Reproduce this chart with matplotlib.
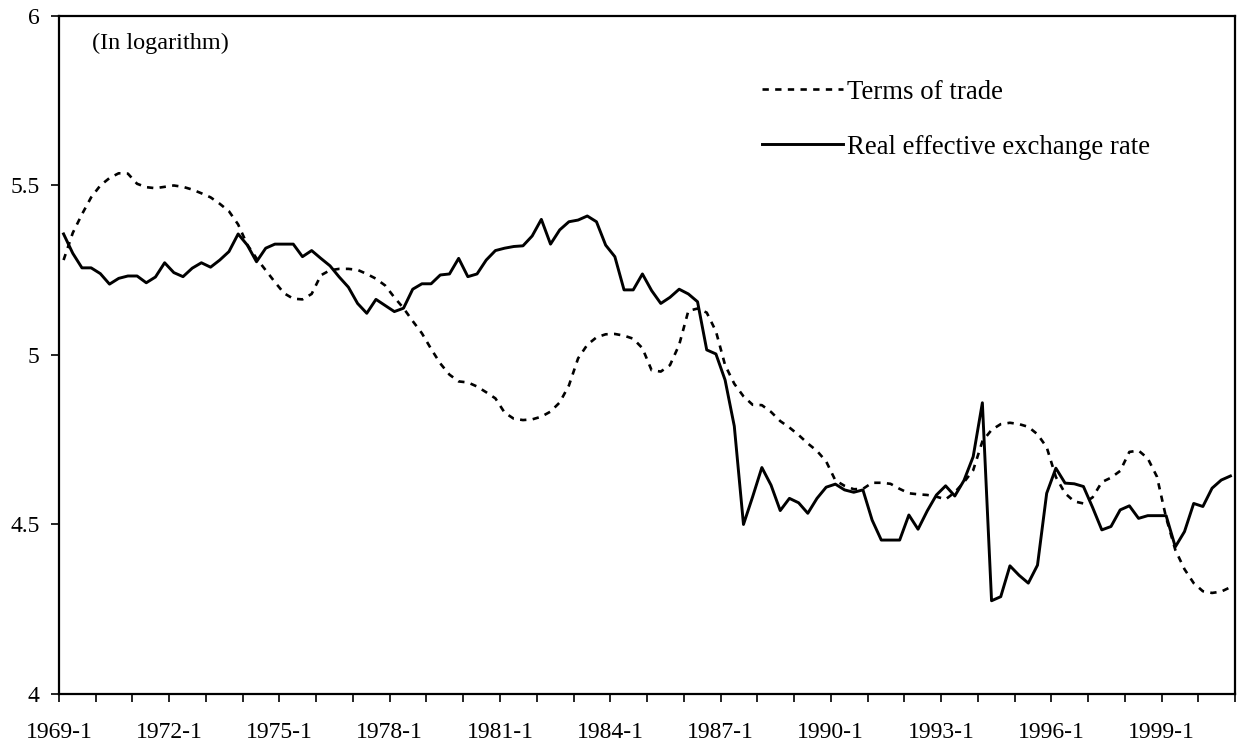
import matplotlib.pyplot as plt
from matplotlib.ticker import FuncFormatter
import numpy as np

# Quarterly data, 1969-1 to 2000-4 (in logarithm)
terms_of_trade = [
    5.28, 5.36, 5.415, 5.465, 5.50, 5.522, 5.536, 5.535,      # 1969-1970
    5.505, 5.495, 5.492, 5.496, 5.50, 5.496, 5.488, 5.477,    # 1971-1972
    5.465, 5.446, 5.424, 5.385, 5.325, 5.285, 5.25, 5.215,    # 1973-1974
    5.182, 5.166, 5.164, 5.18, 5.235, 5.25, 5.254, 5.254,     # 1975-1976
    5.251, 5.239, 5.225, 5.205, 5.17, 5.138, 5.10, 5.064,     # 1977-1978
    5.018, 4.975, 4.942, 4.922, 4.919, 4.907, 4.89, 4.872,    # 1979-1980
    4.83, 4.812, 4.808, 4.81, 4.818, 4.833, 4.86, 4.91,       # 1981-1982
    4.99, 5.03, 5.052, 5.061, 5.062, 5.057, 5.048, 5.02,      # 1983-1984
    4.955, 4.951, 4.97, 5.03, 5.13, 5.137, 5.125, 5.07,       # 1985-1986
    4.97, 4.915, 4.878, 4.853, 4.852, 4.832, 4.805, 4.786,    # 1987-1988
    4.764, 4.739, 4.717, 4.686, 4.63, 4.614, 4.604, 4.605,    # 1989-1990
    4.623, 4.623, 4.62, 4.605, 4.592, 4.589, 4.587, 4.582,    # 1991-1992
    4.574, 4.595, 4.625, 4.66, 4.745, 4.779, 4.796, 4.80,     # 1993-1994
    4.796, 4.788, 4.766, 4.728, 4.64, 4.592, 4.568, 4.562,    # 1995-1996
    4.58, 4.625, 4.638, 4.658, 4.714, 4.718, 4.695, 4.641,    # 1997-1998
    4.52, 4.425, 4.368, 4.327, 4.303, 4.298, 4.302, 4.315,    # 1999-2000
]

real_effective_exchange_rate = [
    5.357, 5.30, 5.257, 5.257, 5.24, 5.209, 5.226, 5.233,
    5.233, 5.213, 5.23, 5.272, 5.243, 5.231, 5.256, 5.272,
    5.259, 5.28, 5.305, 5.357, 5.324, 5.275, 5.315, 5.327,
    5.327, 5.327, 5.29, 5.308, 5.285, 5.263, 5.23, 5.20,
    5.152, 5.123, 5.164, 5.146, 5.128, 5.138, 5.194, 5.21,
    5.21, 5.236, 5.239, 5.285, 5.231, 5.239, 5.28, 5.308,
    5.315, 5.32, 5.322, 5.351, 5.40, 5.327, 5.369, 5.393,
    5.398, 5.41, 5.393, 5.324, 5.29, 5.192, 5.192, 5.239,
    5.19, 5.152, 5.17, 5.194, 5.18, 5.157, 5.015, 5.003,
    4.926, 4.79, 4.50, 4.582, 4.668, 4.616, 4.541, 4.577,
    4.564, 4.533, 4.577, 4.61, 4.619, 4.602, 4.595, 4.602,
    4.513, 4.454, 4.454, 4.454, 4.528, 4.486, 4.54, 4.587,
    4.614, 4.584, 4.63, 4.70, 4.859, 4.275, 4.287, 4.378,
    4.35, 4.327, 4.38, 4.592, 4.666, 4.622, 4.62, 4.612,
    4.55, 4.484, 4.494, 4.543, 4.555, 4.518, 4.526, 4.526,
    4.526, 4.434, 4.479, 4.562, 4.553, 4.607, 4.631, 4.643,
]

years = list(range(1969, 2002))
y_ticks = [4, 4.5, 5, 5.5, 6]

plt.rcParams['font.family'] = ['Liberation Serif', 'DejaVu Serif']
plt.rcParams['font.size'] = 17

fig, ax = plt.subplots(figsize=(12.39, 7.47), dpi=100)
fig.subplots_adjust(left=0.0476, right=0.9968, bottom=0.071, top=0.9786)

# one point per quarter, drawn in the middle of its quarter
x = np.arange(len(real_effective_exchange_rate)) + 0.5
ax.plot(x, terms_of_trade, color='black', lw=1.9, linestyle=(0, (2.4, 2.4)),
        label='Terms of trade')
ax.plot(x, real_effective_exchange_rate, color='black', lw=2.1,
        label='Real effective exchange rate')

ax.set_xlim(0, 4 * (len(years) - 1))
ax.set_ylim(4, 6)
ax.set_yticks(y_ticks)
ax.yaxis.set_major_formatter(FuncFormatter(lambda v, p: f'{v:g}'))

# a tick each year, labelled every third year
ax.set_xticks([4 * k for k in range(len(years))])
ax.set_xticklabels([f'{yr}-1' if (yr - 1969) % 3 == 0 and yr < 2001 else ''
                    for yr in years])

ax.tick_params(axis='x', direction='out', length=6, width=1.2, pad=14)
ax.tick_params(axis='y', direction='out', length=6, width=1.2, pad=8)
for side in ax.spines.values():
    side.set_linewidth(1.6)

ax.text(0.028, 0.96, '(In logarithm)', transform=ax.transAxes,
        ha='left', va='center', fontsize=17.5)

ax.legend(loc='upper left', bbox_to_anchor=(0.598, 0.906), frameon=False,
          borderpad=0, borderaxespad=0, handlelength=3.0, handletextpad=0.15,
          labelspacing=1.12, fontsize=19.3)

fig.savefig('out.png', dpi=100)
